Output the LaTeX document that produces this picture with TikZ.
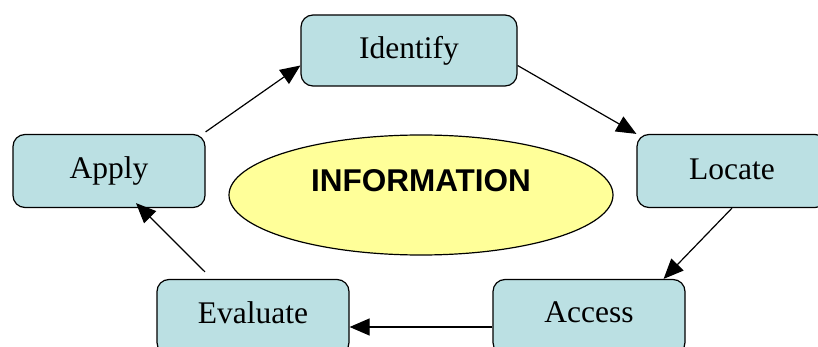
\documentclass[tikz,border=0pt]{standalone}
\usepackage{fontspec}
\setmainfont{Liberation Serif}
\newfontfamily\infofont{Liberation Sans}
\usepackage{tikz}
\usetikzlibrary{shapes,arrows.meta}
\definecolor{boxblue}{RGB}{187,224,227}
\definecolor{infoyellow}{RGB}{255,255,153}

\begin{document}
\begin{tikzpicture}
    [x=1pt,y=-1pt,
stagebox/.style={rectangle,rounded corners=12pt,draw,line width=1.2pt,fill=boxblue,
  minimum width=192pt,minimum height=73pt,font=\fontsize{31.5}{36}\selectfont},
cycle/.style={line width=1.2pt,-{Triangle[length=20pt,width=17pt]}}
]
\useasboundingbox (0,0) rectangle (818,347);
  \node[stagebox,minimum width=216pt,minimum height=71pt] (identify) at (409,50.5) {Identify};
  \node[stagebox] (apply) at (109,171) {Apply};
  \node[stagebox,minimum width=190pt,text depth=4pt] (locate) at (732,171) {Locate};
  \node[stagebox,minimum height=75pt,text depth=9pt] (evaluate) at (253,317) {Evaluate};
  \node[stagebox,minimum height=75pt,text depth=9pt] (access) at (589,317) {Access};
  \node[ellipse,draw,line width=1.2pt,fill=infoyellow,minimum width=384pt,minimum height=120pt,
    inner sep=0pt] (info) at (421,195) {};
  \node[font=\infofont\bfseries\fontsize{31.5}{36}\selectfont] (infotext) at (421,181) {INFORMATION};
  \draw[cycle] ([yshift=2pt]apply.north east) -- ([yshift=-15pt]identify.west);
  \draw[cycle] ([yshift=-15pt]identify.east) -- (locate.north west);
  \draw[cycle] (locate.south) -- ([xshift=-22pt]access.north east);
  \draw[cycle] ([yshift=-10pt]access.west) -- ([yshift=-10pt]evaluate.east);
  \draw[cycle] ([xshift=-48pt,yshift=7pt]evaluate.north) -- ([xshift=27pt,yshift=5pt]apply.south);
\end{tikzpicture}
\end{document}
